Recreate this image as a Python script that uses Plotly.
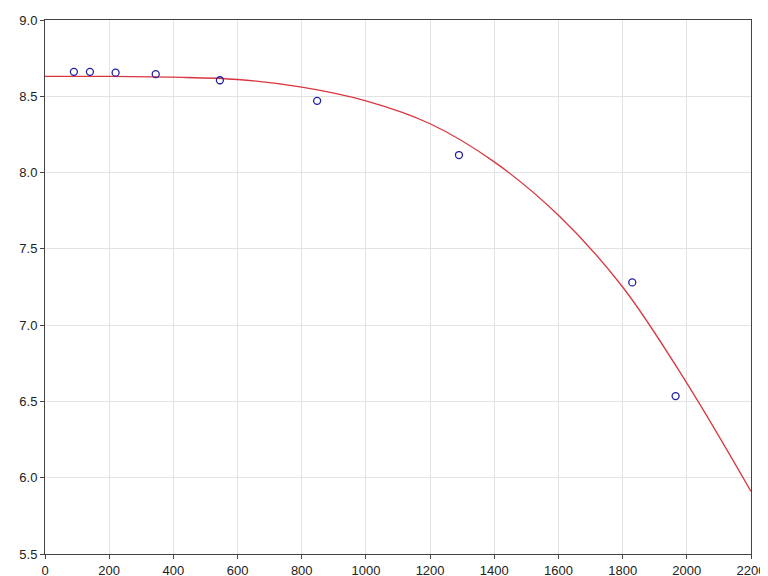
import plotly.graph_objects as go

pts_x = [90, 140, 220, 345, 545, 848, 1290, 1830, 1965]
pts_y = [8.66, 8.66, 8.655, 8.645, 8.605, 8.47, 8.115, 7.28, 6.535]
curve_x = [0, 200, 400, 600, 800, 1000, 1200, 1400, 1600, 1800, 2000, 2200]
curve_y = [8.63, 8.63, 8.625, 8.61, 8.56, 8.47, 8.32, 8.07, 7.72, 7.25, 6.62, 5.91]

fig = go.Figure()
fig.add_trace(go.Scatter(x=curve_x, y=curve_y, mode="lines", line=dict(color="#d9363e", width=1.3, shape="spline")))
fig.add_trace(go.Scatter(x=pts_x, y=pts_y, mode="markers", cliponaxis=False,
                         marker=dict(symbol="circle-open", size=7, color="#2020a0", line=dict(width=1.3))))
ax = dict(showgrid=True, gridcolor="#e3e3e3", showline=True, linecolor="#444", mirror=True,
          ticks="outside", ticklen=4, tickcolor="#444", zeroline=False, automargin=False,
          tickfont=dict(family="Arial, Liberation Sans", size=13, color="#222"))
fig.update_xaxes(range=[0, 2200], dtick=200, **ax)
fig.update_yaxes(range=[5.5, 9.0], dtick=0.5, tickformat=".1f", **ax)
fig.update_layout(width=768, height=576, showlegend=False, paper_bgcolor="white", plot_bgcolor="white",
                  margin=dict(l=37, r=25, t=12, b=30, autoexpand=False))
fig.write_html("out.html")
